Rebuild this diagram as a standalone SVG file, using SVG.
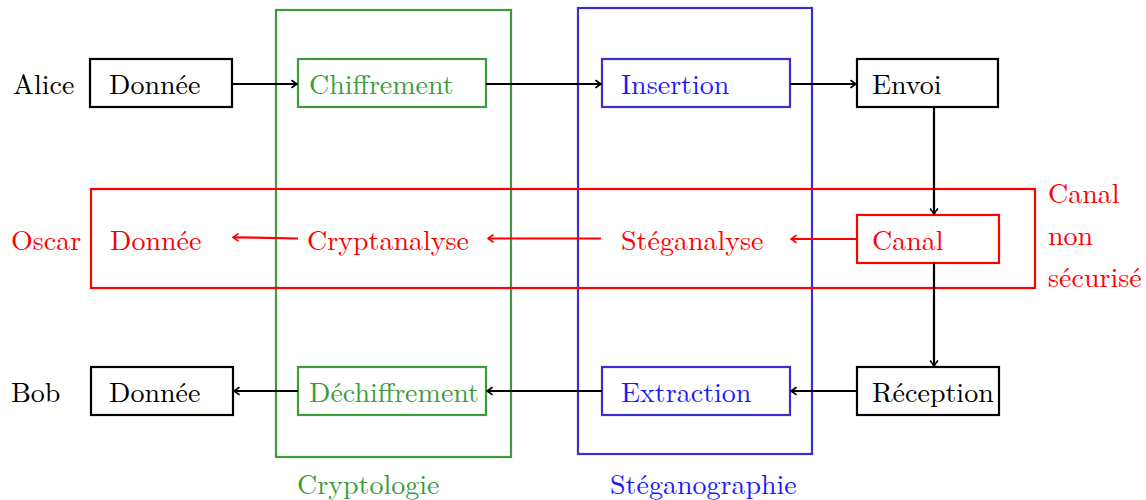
<svg xmlns="http://www.w3.org/2000/svg" width="1146" height="500" viewBox="0 0 1146 500">
  <style>
    text { font-family: 'Latin Modern Roman', 'DejaVu Serif', serif; font-size: 28px; }
    .box { fill: none; stroke-width: 2.2; }
    .k { stroke: #000; }
    .g { stroke: #3c9c3c; }
    .b { stroke: #3a2fcc; }
    .r { stroke: #ff0000; }
    .tk { fill: #000; }
    .tg { fill: #3c9c3c; }
    .tb { fill: #1a1aff; }
    .tr { fill: #ff0000; }
    .edge { fill: none; stroke-width: 2.2; }
  </style>
  <defs>
    <marker id="ak" viewBox="-7 -5 8 10" markerWidth="8" markerHeight="10" refX="0" refY="0" orient="auto" markerUnits="userSpaceOnUse">
      <path d="M-5,-3.5 Q-1.5,-0.8 0,0 Q-1.5,0.8 -5,3.5" fill="none" stroke="#000" stroke-width="1.6" stroke-linecap="round"/>
    </marker>
    <marker id="ar" viewBox="-7 -5 8 10" markerWidth="8" markerHeight="10" refX="0" refY="0" orient="auto" markerUnits="userSpaceOnUse">
      <path d="M-5,-3.5 Q-1.5,-0.8 0,0 Q-1.5,0.8 -5,3.5" fill="none" stroke="#ff0000" stroke-width="1.6" stroke-linecap="round"/>
    </marker>
  </defs>

  <!-- grouping frames -->
  <g id="cryptologie">
    <rect class="box g" x="276" y="10" width="235" height="447"/>
    <text class="tg" x="297" y="494">Cryptologie</text>
  </g>
  <g id="steganographie">
    <rect class="box b" x="578" y="8" width="234" height="446"/>
    <text class="tb" x="610" y="494">Stéganographie</text>
  </g>
  <g id="canal-non-securise">
    <rect class="box r" x="91" y="189" width="944" height="99"/>
    <text class="tr" x="1048" y="203">Canal</text>
    <text class="tr" x="1048" y="245">non</text>
    <text class="tr" x="1048" y="287">sécurisé</text>
  </g>

  <!-- actors -->
  <g id="alice"><text class="tk" x="13" y="94">Alice</text></g>
  <g id="oscar"><text class="tr" x="11" y="250">Oscar</text></g>
  <g id="bob"><text class="tk" x="11" y="402">Bob</text></g>

  <!-- sender row -->
  <g id="donnee-alice">
    <rect class="box k" x="90" y="59" width="142" height="48"/>
    <text class="tk" x="109" y="94">Donnée</text>
  </g>
  <g id="chiffrement">
    <rect class="box g" x="298" y="59" width="188" height="48"/>
    <text class="tg" x="309" y="94">Chiffrement</text>
  </g>
  <g id="insertion">
    <rect class="box b" x="602" y="59" width="188" height="48"/>
    <text class="tb" x="621" y="94">Insertion</text>
  </g>
  <g id="envoi">
    <rect class="box k" x="857" y="59" width="141" height="48"/>
    <text class="tk" x="872" y="94">Envoi</text>
  </g>

  <!-- attacker row -->
  <g id="canal">
    <rect class="box r" x="857" y="215" width="142" height="48"/>
    <text class="tr" x="872" y="250">Canal</text>
  </g>
  <g id="steganalyse"><text class="tr" x="621" y="250">Stéganalyse</text></g>
  <g id="cryptanalyse"><text class="tr" x="307" y="250">Cryptanalyse</text></g>
  <g id="donnee-oscar"><text class="tr" x="110" y="250">Donnée</text></g>

  <!-- receiver row -->
  <g id="reception">
    <rect class="box k" x="857" y="367" width="142" height="48"/>
    <text class="tk" x="872" y="402">Réception</text>
  </g>
  <g id="extraction">
    <rect class="box b" x="602" y="367" width="188" height="48"/>
    <text class="tb" x="621" y="402">Extraction</text>
  </g>
  <g id="dechiffrement">
    <rect class="box g" x="298" y="367" width="188" height="48"/>
    <text class="tg" x="309" y="402">Déchiffrement</text>
  </g>
  <g id="donnee-bob">
    <rect class="box k" x="91" y="367" width="142" height="48"/>
    <text class="tk" x="109" y="402">Donnée</text>
  </g>

  <!-- connectors -->
  <g id="connectors">
    <line class="edge k" x1="232" y1="84" x2="297" y2="84" marker-end="url(#ak)"/>
    <line class="edge k" x1="486" y1="84" x2="601" y2="84" marker-end="url(#ak)"/>
    <line class="edge k" x1="790" y1="84" x2="856" y2="84" marker-end="url(#ak)"/>
    <line class="edge k" x1="934" y1="107" x2="934" y2="214" marker-end="url(#ak)"/>
    <line class="edge r" x1="857" y1="239" x2="791" y2="239" marker-end="url(#ar)"/>
    <line class="edge r" x1="601" y1="238.5" x2="488" y2="238.5" marker-end="url(#ar)"/>
    <line class="edge r" x1="298" y1="238.5" x2="233" y2="237.3" marker-end="url(#ar)"/>
    <line class="edge k" x1="934" y1="263" x2="934" y2="366" marker-end="url(#ak)"/>
    <line class="edge k" x1="857" y1="391" x2="791" y2="391" marker-end="url(#ak)"/>
    <line class="edge k" x1="602" y1="391" x2="487" y2="391" marker-end="url(#ak)"/>
    <line class="edge k" x1="298" y1="391" x2="234" y2="391" marker-end="url(#ak)"/>
  </g>
</svg>
